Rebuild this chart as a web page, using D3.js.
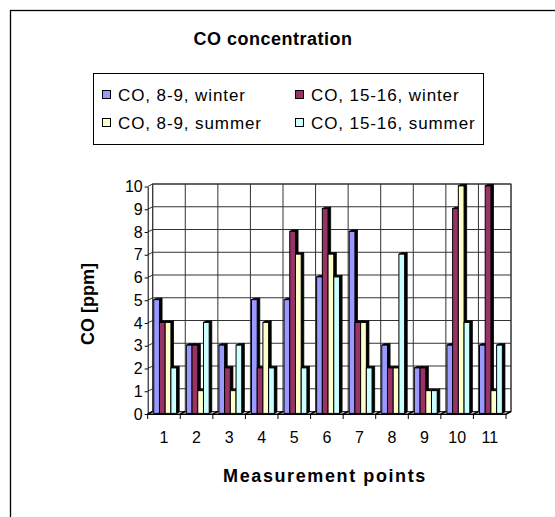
<!DOCTYPE html>
<html>
<head>
<meta charset="utf-8">
<script src="https://cdn.jsdelivr.net/npm/d3@7"></script>
<style>
  html, body { margin: 0; padding: 0; background: #fff; }
  svg { display: block; font-family: "Liberation Sans", Arial, sans-serif; }
</style>
</head>
<body>
<svg id="chart" width="555" height="517"></svg>
<script>
// Measurement points along the category axis
const categories = ["1", "2", "3", "4", "5", "6", "7", "8", "9", "10", "11"];

// Series names shown in the legend
const seriesNames = ["CO, 8-9, winter", "CO, 15-16, winter", "CO, 8-9, summer", "CO, 15-16, summer"];

// CO concentration in ppm, one value per measurement point
const winterMorning   = [5, 3, 3, 5, 5, 6, 8, 3, 2, 3, 3];
const winterAfternoon = [4, 3, 2, 2, 8, 9, 4, 2, 2, 9, 10];
const summerMorning   = [4, 1, 1, 4, 7, 7, 4, 2, 1, 10, 1];
const summerAfternoon = [2, 4, 3, 2, 2, 6, 2, 7, 1, 4, 3];

// Value axis ticks
const yTicks = [0, 1, 2, 3, 4, 5, 6, 7, 8, 9, 10];

const seriesValues = [winterMorning, winterAfternoon, summerMorning, summerAfternoon];
const seriesColors = ["#9999FF", "#993366", "#FFFFCC", "#CCFFFF"];

const svg = d3.select("#chart");

// Chart area frame
svg.append("rect")
  .attr("x", 10.5).attr("y", 10.5)
  .attr("width", 700).attr("height", 700)
  .attr("fill", "#fff").attr("stroke", "#000").attr("stroke-width", 1.3);

// Plot geometry (front plane) and 3D depth of the walls
const x0 = 147.7, x1 = 506;
const wallDx = 5, wallDy = -2.5;

const x = d3.scaleBand().domain(categories).range([x0, x1]).paddingInner(0).paddingOuter(0);
const xs = d3.scaleBand().domain(seriesNames).range([0, x.bandwidth()]).paddingInner(0).paddingOuter(0.85);
const y = d3.scaleLinear().domain([0, 10]).range([414, 186.5]);

const grid = svg.append("g").attr("stroke", "#333").attr("stroke-width", 1).attr("fill", "none");

// Back wall
grid.append("rect")
  .attr("x", x0 + wallDx).attr("y", y(10) + wallDy)
  .attr("width", x1 - x0).attr("height", y(0) - y(10))
  .attr("fill", "#fff");

// Horizontal gridlines: back wall and left side wall
yTicks.forEach(v => {
  grid.append("line")
    .attr("x1", x0 + wallDx).attr("x2", x1 + wallDx)
    .attr("y1", y(v) + wallDy).attr("y2", y(v) + wallDy);
  grid.append("line")
    .attr("x1", x0).attr("x2", x0 + wallDx)
    .attr("y1", y(v)).attr("y2", y(v) + wallDy);
});

// Category boundaries: vertical gridlines on the back wall, depth lines on the floor
const boundaries = categories.map(c => x(c)).concat([x1]);
boundaries.forEach(bx => {
  grid.append("line")
    .attr("x1", bx + wallDx).attr("x2", bx + wallDx)
    .attr("y1", y(10) + wallDy).attr("y2", y(0) + wallDy);
});

// Floor
svg.append("path")
  .attr("d", `M${x0},${y(0)} L${x1},${y(0)} L${x1 + wallDx},${y(0) + wallDy} L${x0 + wallDx},${y(0) + wallDy} Z`)
  .attr("fill", "#c8c8c8").attr("stroke", "#333").attr("stroke-width", 1);
boundaries.forEach(bx => {
  svg.append("line")
    .attr("x1", bx).attr("x2", bx + wallDx)
    .attr("y1", y(0)).attr("y2", y(0) + wallDy)
    .attr("stroke", "#000").attr("stroke-width", 1.6);
});

// 3D columns: front face, right side and top
const fdx = 1.2, fdy = -0.6;   // front face set back from the front plane
const bdx = 2.6, bdy = -1.5;   // column depth
const bars = svg.append("g");
categories.forEach((cat, i) => {
  seriesNames.forEach((name, s) => {
    const v = seriesValues[s][i];
    const bx = x(cat) + xs(name) + fdx;
    const bw = xs.bandwidth();
    const top = y(v) + fdy;
    const base = y(0) + fdy;
    const g = bars.append("g");
    // right side
    g.append("path")
      .attr("d", `M${bx + bw},${base} L${bx + bw + bdx},${base + bdy} L${bx + bw + bdx},${top + bdy} L${bx + bw},${top} Z`)
      .attr("fill", "#000").attr("stroke", "#000").attr("stroke-width", 0.8);
    // top
    g.append("path")
      .attr("d", `M${bx},${top} L${bx + bdx},${top + bdy} L${bx + bw + bdx},${top + bdy} L${bx + bw},${top} Z`)
      .attr("fill", "#000").attr("stroke", "#000").attr("stroke-width", 0.8);
    // front
    g.append("rect")
      .attr("x", bx).attr("y", top)
      .attr("width", bw).attr("height", base - top)
      .attr("fill", seriesColors[s]).attr("stroke", "#000").attr("stroke-width", 1);
  });
});

// Value axis
const yAxis = svg.append("g")
  .attr("transform", `translate(${x0},0)`)
  .call(d3.axisLeft(y).tickValues(yTicks).tickFormat(d3.format("d")).tickSize(3).tickPadding(2).tickSizeOuter(0));
yAxis.select(".domain").attr("stroke", "#000");
yAxis.selectAll(".tick line").attr("stroke", "#000");
yAxis.selectAll(".tick text").attr("fill", "#000").style("font-size", "16px")
  .style("font-family", "'Liberation Sans', Arial, sans-serif");

// Category axis
const xAxis = svg.append("g")
  .attr("transform", `translate(0,${y(0)})`)
  .call(d3.axisBottom(x).tickSize(0).tickPadding(18).tickSizeOuter(0));
xAxis.select(".domain").attr("stroke", "#000");
xAxis.selectAll(".tick text").attr("fill", "#000").style("font-size", "16px")
  .style("font-family", "'Liberation Sans', Arial, sans-serif");
boundaries.forEach(bx => {
  xAxis.append("line")
    .attr("x1", bx).attr("x2", bx).attr("y1", 0).attr("y2", 5)
    .attr("stroke", "#000");
});

// Titles
svg.append("text")
  .attr("x", 273).attr("y", 44.5)
  .attr("text-anchor", "middle")
  .style("font-size", "18px").style("font-weight", "bold").style("letter-spacing", "0.5px")
  .text("CO concentration");

svg.append("text")
  .attr("x", 325).attr("y", 482)
  .attr("text-anchor", "middle")
  .style("font-size", "18px").style("font-weight", "bold").style("letter-spacing", "1.6px")
  .text("Measurement points");

svg.append("text")
  .attr("transform", "translate(94,304) rotate(-90)")
  .attr("text-anchor", "middle")
  .style("font-size", "18px").style("font-weight", "bold")
  .text("CO [ppm]");

// Legend
const legend = svg.append("g");
legend.append("rect")
  .attr("x", 93.5).attr("y", 73.5).attr("width", 390).attr("height", 71)
  .attr("fill", "#fff").attr("stroke", "#000").attr("stroke-width", 1);
const legendCols = [102, 295];
const legendRows = [95, 123];
seriesNames.forEach((name, s) => {
  const lx = legendCols[s % 2], ly = legendRows[Math.floor(s / 2)];
  legend.append("rect")
    .attr("x", lx + 0.5).attr("y", ly - 4.5).attr("width", 8).attr("height", 8)
    .attr("fill", seriesColors[s]).attr("stroke", "#000").attr("stroke-width", 1);
  legend.append("text")
    .attr("x", lx + 16).attr("y", ly + 6)
    .style("font-size", "17px").style("letter-spacing", "0.9px")
    .text(name);
});
</script>
</body>
</html>
